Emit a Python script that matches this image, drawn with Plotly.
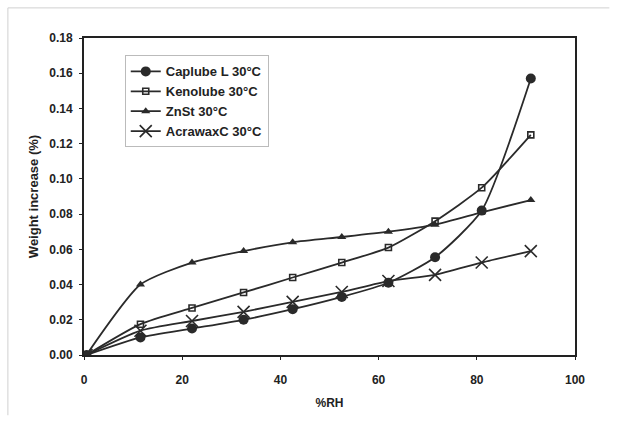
import plotly.graph_objects as go

rh = [0.5, 11.5, 22, 32.5, 42.5, 52.5, 62, 71.5, 81, 91]
caplube = [0.0, 0.010, 0.015, 0.020, 0.026, 0.033, 0.041, 0.0555, 0.082, 0.157]
kenolube = [0.0, 0.0175, 0.0267, 0.0355, 0.044, 0.0525, 0.061, 0.076, 0.095, 0.125]
znst = [0.0, 0.040, 0.0525, 0.059, 0.064, 0.067, 0.070, 0.074, 0.081, 0.088]
acrawax = [0.0, 0.0138, 0.0193, 0.0245, 0.0302, 0.0358, 0.042, 0.0455, 0.0525, 0.059]

names = ["Caplube L 30°C", "Kenolube 30°C", "ZnSt 30°C", "AcrawaxC 30°C"]
col = "#2a2a2a"

fig = go.Figure()
fig.add_trace(go.Scatter(x=rh, y=caplube, name=names[0], mode="lines+markers",
                         line=dict(color=col, width=1.8, shape="spline", smoothing=0.6),
                         marker=dict(symbol="circle", size=10, color=col)))
fig.add_trace(go.Scatter(x=rh, y=kenolube, name=names[1], mode="lines+markers",
                         line=dict(color=col, width=1.8, shape="spline", smoothing=0.6),
                         marker=dict(symbol="square-open", size=6, color=col, line=dict(width=1.6))))
fig.add_trace(go.Scatter(x=rh, y=znst, name=names[2], mode="lines+markers",
                         line=dict(color=col, width=1.8, shape="spline", smoothing=0.6),
                         marker=dict(symbol="triangle-up", size=8, color=col)))
fig.add_trace(go.Scatter(x=rh, y=acrawax, name=names[3], mode="lines+markers",
                         line=dict(color=col, width=1.8, shape="spline", smoothing=0.6),
                         marker=dict(symbol="x-thin-open", size=12, color=col, line=dict(width=1.6, color=col))))

fig.update_layout(
    width=629, height=423,
    margin=dict(l=84, r=54, t=38, b=68),
    paper_bgcolor="white", plot_bgcolor="white",
    font=dict(family="Liberation Sans, Arial", color="#222", size=12),
    showlegend=True,
    legend=dict(x=0.083, y=0.945, xanchor="left", yanchor="top",
                bordercolor="#bbbbbb", borderwidth=1, bgcolor="white",
                font=dict(size=13, family="Liberation Sans, Arial", weight="bold"),
                itemwidth=30, tracegroupgap=2),
    shapes=[
        dict(type="line", xref="paper", yref="paper", x0=-0.155, x1=1.07, y0=1.095, y1=1.095,
             line=dict(color="#d0d0d0", width=1)),
        dict(type="line", xref="paper", yref="paper", x0=-0.155, x1=-0.155, y0=-0.19, y1=1.095,
             line=dict(color="#d0d0d0", width=1)),
    ],
)
fig.update_xaxes(range=[0, 100], dtick=20, showgrid=False, zeroline=False,
                 showline=True, linecolor="#222", linewidth=2, mirror=True,
                 ticks="outside", ticklen=3, tickcolor="#222", ticklabelstandoff=10,
                 tickfont=dict(size=12, weight="bold"),
                 title=dict(text="%RH", font=dict(size=12, weight="bold"), standoff=12))
fig.update_yaxes(range=[0, 0.18], dtick=0.02, tickformat=".2f", showgrid=False, zeroline=False,
                 showline=True, linecolor="#222", linewidth=2, mirror=True,
                 ticks="outside", ticklen=3, tickcolor="#222", ticklabelstandoff=4,
                 tickfont=dict(size=12, weight="bold"),
                 title=dict(text="Weight increase (%)", font=dict(size=13, weight="bold"), standoff=8))

fig.write_html("out.html")
